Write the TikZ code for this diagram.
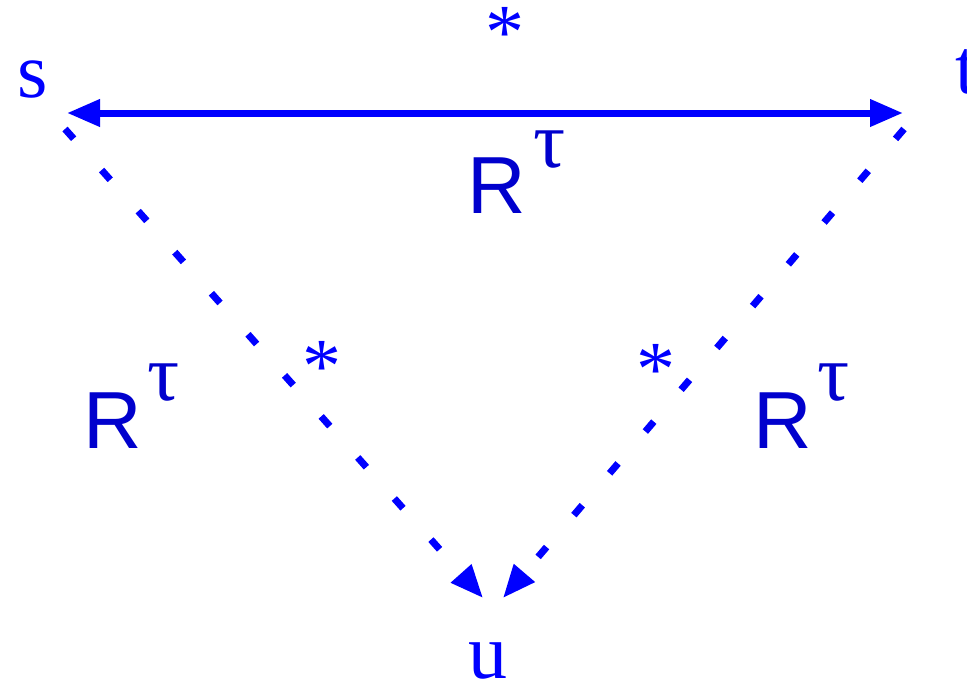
\documentclass[tikz,border=0pt]{standalone}
\usepackage{fontspec}
\setmainfont{Liberation Serif}
\newfontfamily\rsans{Liberation Sans}
\usetikzlibrary{arrows.meta}
\definecolor{lblue}{RGB}{0,0,255}
\definecolor{rblue}{RGB}{0,0,205}
\tikzset{
  lbl/.style={inner sep=0pt, anchor=base, text=lblue, font=\fontsize{78}{80}\selectfont},
  rlbl/.style={inner sep=0pt, anchor=base, text=rblue, font=\rsans\fontsize{81}{84}\selectfont},
  taulbl/.style={inner sep=0pt, anchor=base, text=rblue, font=\fontsize{80}{82}\selectfont},
  tip/.style={-{Triangle[length=33pt,width=26pt]}},
  solidarrow/.style={draw=lblue, line width=7pt, {Triangle[length=33pt,width=26pt]}-{Triangle[length=33pt,width=26pt]}},
  dotarrow/.style={draw=lblue, line width=7pt, dash pattern=on 13pt off 42pt, tip},
}
\begin{document}
\begin{tikzpicture}[x=1pt,y=-1pt]
\useasboundingbox (0,0) rectangle (967,686);
% nodes
\node[lbl] (s) at (33,97) {s};
\node[lbl] (t) at (966,93) {t};
\node[lbl] (u) at (488,678) {u};
\node[lbl] (startop) at (505,58) {*};
\node[lbl] (starl) at (322,392) {*};
\node[lbl] (starr) at (656,395) {*};
% R tau labels
\node[rlbl] (Rtop) at (497,213) {R};
\node[taulbl] (tautop) at (550,167) {τ};
\node[rlbl] (Rl) at (113,448) {R};
\node[taulbl] (taul) at (164,400) {τ};
\node[rlbl] (Rr) at (783,448) {R};
\node[taulbl] (taur) at (834,400) {τ};
% connector end points
\coordinate (sA) at (67,113);
\coordinate (tA) at (903,113);
\coordinate (sD) at (65,129);
\coordinate (tD) at (904,129);
\coordinate (uL) at (483,598);
\coordinate (uR) at (503,598);
% connectors
\draw[solidarrow] (sA) -- (tA);
\draw[dotarrow] (sD) -- (uL);
\draw[dotarrow] (tD) -- (uR);
\end{tikzpicture}
\end{document}
